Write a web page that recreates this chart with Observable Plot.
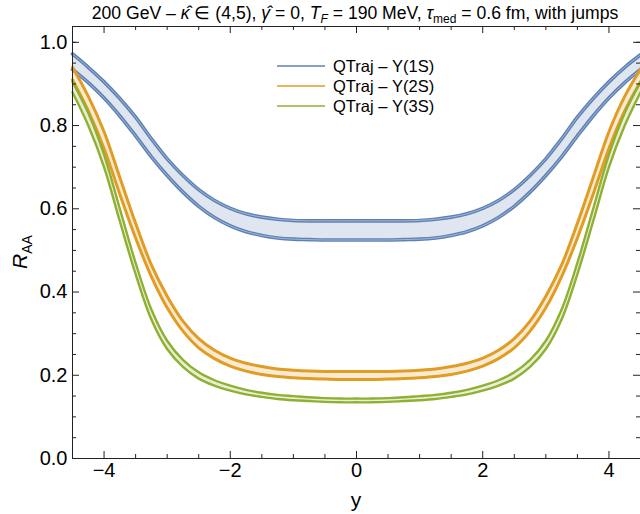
<!DOCTYPE html>
<html><head><meta charset="utf-8">
<script src="https://cdn.jsdelivr.net/npm/d3@7"></script>
<script src="https://cdn.jsdelivr.net/npm/@observablehq/plot@0.6"></script>
<style>body{margin:0;background:#fff} svg{display:block}</style>
</head><body><div id="chart"></div>
<script>
// ---- data ----
const rapidity = [-4.5,-4.25,-4,-3.75,-3.5,-3.25,-3,-2.75,-2.5,-2.25,-2,-1.75,-1.5,-1.25,-1,-0.75,-0.5,-0.25,0,
  0.25,0.5,0.75,1,1.25,1.5,1.75,2,2.25,2.5,2.75,3,3.25,3.5,3.75,4,4.25,4.5];
const states = ["QTraj – Υ(1S)", "QTraj – Υ(2S)", "QTraj – Υ(3S)"];
const colors = ["#5e81b5", "#e19c24", "#8fb032"];
const upsilon1S_hi = [0.972,0.94,0.905,0.865,0.82,0.768,0.72,0.68,0.646,0.62,0.601,0.588,0.58,0.575,0.572,0.571,0.571,0.571,0.571,
  0.571,0.571,0.571,0.572,0.575,0.58,0.588,0.601,0.62,0.646,0.68,0.72,0.768,0.82,0.865,0.905,0.94,0.97];
const upsilon1S_lo = [0.935,0.903,0.866,0.823,0.775,0.725,0.68,0.64,0.606,0.579,0.559,0.545,0.536,0.53,0.527,0.526,0.525,0.525,0.525,
  0.525,0.525,0.526,0.527,0.53,0.536,0.545,0.559,0.579,0.606,0.64,0.68,0.725,0.775,0.823,0.866,0.903,0.935];
const upsilon2S_hi = [0.94,0.87,0.785,0.675,0.565,0.465,0.39,0.33,0.288,0.26,0.241,0.229,0.221,0.215,0.212,0.21,0.209,0.209,0.209,
  0.209,0.209,0.21,0.212,0.215,0.221,0.229,0.241,0.26,0.288,0.33,0.39,0.465,0.565,0.675,0.785,0.87,0.935];
const upsilon2S_lo = [0.91,0.835,0.745,0.635,0.53,0.437,0.362,0.306,0.266,0.24,0.222,0.21,0.202,0.197,0.194,0.192,0.191,0.19,0.19,
  0.19,0.191,0.192,0.194,0.197,0.202,0.21,0.222,0.24,0.266,0.306,0.362,0.437,0.53,0.635,0.745,0.835,0.905];
const upsilon3S_hi = [0.905,0.83,0.73,0.6,0.47,0.358,0.283,0.237,0.207,0.188,0.175,0.165,0.158,0.153,0.15,0.147,0.145,0.144,0.144,
  0.144,0.145,0.147,0.15,0.153,0.158,0.165,0.175,0.188,0.207,0.237,0.283,0.358,0.47,0.6,0.73,0.83,0.905];
const upsilon3S_lo = [0.88,0.8,0.7,0.57,0.443,0.334,0.263,0.22,0.192,0.175,0.163,0.154,0.148,0.143,0.14,0.138,0.136,0.135,0.135,
  0.135,0.136,0.138,0.14,0.143,0.148,0.154,0.163,0.175,0.192,0.22,0.263,0.334,0.443,0.57,0.7,0.8,0.88];
const xMajor = [-4,-2,0,2,4];
const xMinor = [-4.5,-3.5,-3,-2.5,-1.5,-1,-0.5,0.5,1,1.5,2.5,3,3.5,4.5];
const yMajor = [0,0.2,0.4,0.6,0.8,1.0];
const yMinor = [0.05,0.1,0.15,0.25,0.3,0.35,0.45,0.5,0.55,0.65,0.7,0.75,0.85,0.9,0.95,1.0];

// ---- build table ----
const his = [upsilon1S_hi, upsilon2S_hi, upsilon3S_hi];
const los = [upsilon1S_lo, upsilon2S_lo, upsilon3S_lo];
const rows = [];
states.forEach((s, k) => rapidity.forEach((x, i) => rows.push({state: s, k, x, hi: his[k][i], lo: los[k][i]})));

const W = 640, H = 514, mt = 26, mb = 56, ml = 72, mr = 0;
const innerH = H - mt - mb, innerW = W - ml - mr;
const curve = "catmull-rom";
const FONT = "'Liberation Sans', Arial, sans-serif";

const marks = [];
states.forEach((s, k) => {
  const d = rows.filter(r => r.k === k);
  marks.push(Plot.areaY(d, {x: "x", y1: "lo", y2: "hi", fill: colors[k], fillOpacity: 0.2, curve}));
});
states.forEach((s, k) => {
  const d = rows.filter(r => r.k === k);
  const w = k === 0 ? 3.6 : (k === 1 ? 3 : 2.4);
  for (const key of ["hi", "lo"]) {
    marks.push(Plot.lineY(d, {x: "x", y: key, stroke: colors[k], strokeWidth: w, curve}));
    if (k === 0) marks.push(Plot.lineY(d, {x: "x", y: key, stroke: "#a9bcdb", strokeWidth: 0.9, curve}));
  }
});
// frame ticks (inward)
marks.push(
  Plot.tickX(xMajor, {x: d => d, insetTop: innerH - 7, stroke: "#222"}),
  Plot.tickX(xMinor, {x: d => d, insetTop: innerH - 4, stroke: "#222"}),
  Plot.tickX(xMajor, {x: d => d, insetBottom: innerH - 7, stroke: "#222"}),
  Plot.tickX(xMinor, {x: d => d, insetBottom: innerH - 4, stroke: "#222"}),
  Plot.tickY(yMajor, {y: d => d, insetRight: innerW - 7, stroke: "#222"}),
  Plot.tickY(yMinor, {y: d => d, insetRight: innerW - 4, stroke: "#222"}),
  Plot.tickY(yMajor, {y: d => d, insetLeft: innerW - 7, stroke: "#222"}),
  Plot.tickY(yMinor, {y: d => d, insetLeft: innerW - 4, stroke: "#222"}),
  Plot.frame({stroke: "#222", strokeWidth: 1}),
  Plot.axisX(xMajor, {tickSize: 0, tickPadding: 4, fontSize: 20, label: null}),
  Plot.axisY(yMajor, {tickSize: 0, tickPadding: 5, fontSize: 20, label: null, tickFormat: d3.format(".1f")})
);

const plot = Plot.plot({
  width: W, height: H,
  marginTop: mt, marginBottom: mb, marginLeft: ml, marginRight: mr,
  style: {fontFamily: FONT, color: "#000", background: "#fff", overflow: "visible"},
  x: {domain: [-4.5, 4.5]},
  y: {domain: [0, 1.038]},
  marks
});
document.getElementById("chart").appendChild(plot);

const svg = d3.select(plot);
// title
const t = svg.append("text").attr("x", 355).attr("y", 19).attr("text-anchor", "middle")
  .attr("font-family", FONT).attr("font-size", 17.6).attr("fill", "#000");
t.append("tspan").text("200 GeV – ");
t.append("tspan").attr("font-style", "italic").text("κ̂");
t.append("tspan").text(" ∈ (4,5), ");
t.append("tspan").attr("font-style", "italic").text("γ̂");
t.append("tspan").text(" = 0, ");
t.append("tspan").attr("font-style", "italic").text("T");
t.append("tspan").attr("font-style", "italic").attr("font-size", 12).attr("dy", 4).text("F");
t.append("tspan").attr("dy", -4).text(" = 190 MeV, ");
t.append("tspan").attr("font-style", "italic").text("τ");
t.append("tspan").attr("font-size", 12).attr("dy", 4).text("med");
t.append("tspan").attr("dy", -4).text(" = 0.6 fm, with jumps");

// y axis label
const yl = svg.append("text").attr("transform", "translate(27,252) rotate(-90)").attr("text-anchor", "middle")
  .attr("font-family", FONT).attr("font-size", 21).attr("fill", "#000");
yl.append("tspan").attr("font-style", "italic").text("R");
yl.append("tspan").attr("font-size", 14).attr("dy", 5).text("AA");

// x axis label
svg.append("text").attr("x", 356).attr("y", 507).attr("text-anchor", "middle")
  .attr("font-family", FONT).attr("font-size", 21).attr("fill", "#000").text("y");

// legend
states.forEach((s, k) => {
  const cy = 66 + k * 20;
  svg.append("line").attr("x1", 277).attr("x2", 325).attr("y1", cy).attr("y2", cy)
    .attr("stroke", colors[k]).attr("stroke-width", 1.6);
  svg.append("text").attr("x", 333).attr("y", cy).attr("dy", "0.35em").attr("text-anchor", "start")
    .attr("font-family", FONT).attr("font-size", 16.5).attr("fill", "#000").text(s);
});
</script>
</body></html>
